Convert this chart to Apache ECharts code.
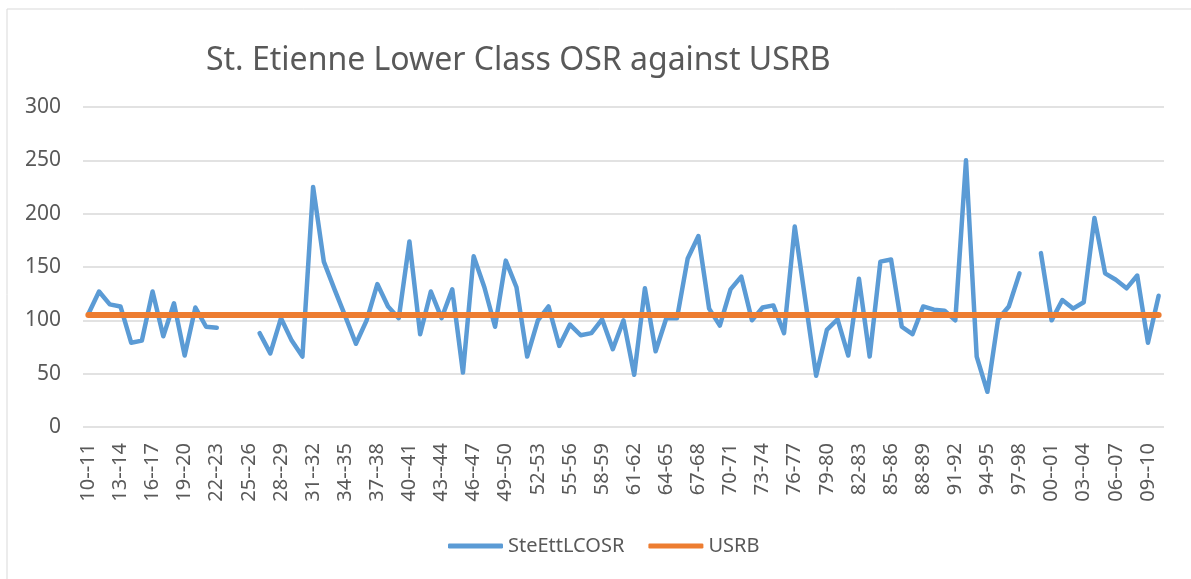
<!DOCTYPE html>
<html>
<head>
<meta charset="utf-8">
<script src="https://cdn.jsdelivr.net/npm/echarts@6/dist/echarts.min.js"></script>
<style>
  html, body { margin: 0; padding: 0; background: #fff; }
  #main { width: 1191px; height: 579px; }
</style>
</head>
<body>
<div id="main"></div>
<script>
// season labels on the x axis
var seasons = [
    '10--11', '11--12', '12--13', '13--14', '14--15', '15--16', '16--17', '17--18', '18--19', '19--20',
    '20--21', '21--22', '22--23', '23--24', '24--25', '25--26', '26--27', '27--28', '28--29', '29--30',
    '30--31', '31--32', '32--33', '33--34', '34--35', '35--36', '36--37', '37--38', '38--39', '39--40',
    '40--41', '41--42', '42--43', '43--44', '44--45', '45--46', '46--47', '47--48', '48--49', '49--50',
    '50--51', '51-52', '52-53', '53-54', '54-55', '55-56', '56-57', '57-58', '58-59', '59-60',
    '60-61', '61-62', '62-63', '63-64', '64-65', '65-66', '66-67', '67-68', '68-69', '69-70',
    '70-71', '71-72', '72-73', '73-74', '74-75', '75-76', '76-77', '77-78', '78-79', '79-80',
    '80-81', '81-82', '82-83', '83-84', '84-85', '85-86', '86-87', '87-88', '88-89', '89-90',
    '90-91', '91-92', '92-93', '93-94', '94-95', '95-96', '96-97', '97-98', '98-99', '99--00',
    '00--01', '01--02', '02--03', '03--04', '04--05', '05--06', '06--07', '07--08', '08--09', '09--10',
    '10--11'
];

// St. Etienne lower class OSR (null = no data)
var steEttLCOSR = [
    106, 127, 115, 113, 79, 81, 127, 85, 116, 67,
    112, 94, 93, null, null, null, 88, 69, 102, 81,
    66, 225, 155, 129, 104, 78, 100, 134, 113, 102,
    174, 87, 127, 102, 129, 51, 160, 131, 94, 156,
    131, 66, 100, 113, 76, 96, 86, 88, 101, 73,
    100, 49, 130, 71, 102, 102, 158, 179, 111, 95,
    129, 141, 100, 112, 114, 88, 188, 118, 48, 91,
    101, 67, 139, 66, 155, 157, 94, 87, 113, 110,
    109, 100, 250, 66, 33, 101, 113, 144, null, 163,
    100, 119, 111, 117, 196, 144, 138, 130, 142, 79,
    123
];

// USRB reference level
var usrb = [
    105, 105, 105, 105, 105, 105, 105, 105, 105, 105,
    105, 105, 105, 105, 105, 105, 105, 105, 105, 105,
    105, 105, 105, 105, 105, 105, 105, 105, 105, 105,
    105, 105, 105, 105, 105, 105, 105, 105, 105, 105,
    105, 105, 105, 105, 105, 105, 105, 105, 105, 105,
    105, 105, 105, 105, 105, 105, 105, 105, 105, 105,
    105, 105, 105, 105, 105, 105, 105, 105, 105, 105,
    105, 105, 105, 105, 105, 105, 105, 105, 105, 105,
    105, 105, 105, 105, 105, 105, 105, 105, 105, 105,
    105, 105, 105, 105, 105, 105, 105, 105, 105, 105,
    105
];

var myChart = echarts.init(document.getElementById('main'));
var textColor = '#595959';
var font = 'Noto Sans';

var option = {
    animation: false,
    backgroundColor: '#fff',
    graphic: [{
        type: 'rect',
        shape: { x: 7, y: 9, width: 1250, height: 650 },
        style: { fill: 'none', stroke: '#D9D9D9', lineWidth: 1 },
        silent: true
    }],
    title: {
        text: 'St. Etienne Lower Class OSR against USRB',
        left: 201,
        top: 40,
        textStyle: { color: textColor, fontFamily: font, fontWeight: 'normal', fontSize: 32 }
    },
    legend: {
        bottom: 18,
        left: 443,
        itemWidth: 55,
        itemHeight: 5,
        itemGap: 24,
        icon: 'roundRect',
        textStyle: { color: textColor, fontFamily: font, fontSize: 20 },
        data: ['SteEttLCOSR', 'USRB']
    },
    grid: {
        left: 83,
        right: 27,
        top: 107,
        bottom: 152,
        containLabel: false
    },
    xAxis: {
        type: 'category',
        boundaryGap: true,
        data: seasons,
        axisLine: { show: false },
        axisTick: { show: false },
        axisLabel: {
            interval: 2,
            rotate: 90,
            margin: 16,
            color: textColor,
            fontFamily: font,
            fontSize: 20
        }
    },
    yAxis: {
        type: 'value',
        min: 0,
        max: 300,
        interval: 50,
        axisLine: { show: false },
        axisTick: { show: false },
        splitLine: { lineStyle: { color: '#D9D9D9', width: 1.5 } },
        axisLabel: {
            margin: 22,
            color: textColor,
            fontFamily: font,
            fontSize: 21
        }
    },
    series: [
        {
            name: 'SteEttLCOSR',
            type: 'line',
            data: steEttLCOSR,
            showSymbol: false,
            connectNulls: false,
            color: '#5B9BD5',
            lineStyle: { width: 4.5, color: '#5B9BD5', cap: 'round', join: 'round' }
        },
        {
            name: 'USRB',
            type: 'line',
            data: usrb,
            showSymbol: false,
            color: '#ED7D31',
            lineStyle: { width: 6, color: '#ED7D31', cap: 'round' }
        }
    ]
};

myChart.setOption(option);
window.onresize = function () {
    myChart.resize();
};
</script>
</body>
</html>
